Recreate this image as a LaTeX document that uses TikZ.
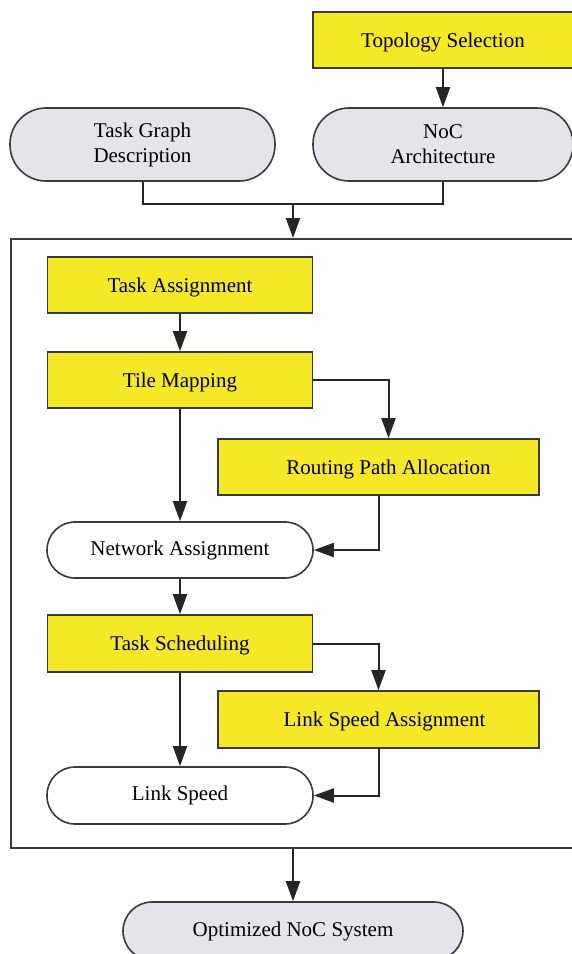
\documentclass[tikz,border=0pt]{standalone}
\usepackage{fontspec}
\setmainfont{Liberation Serif}
\usetikzlibrary{arrows.meta}
\definecolor{ylw}{HTML}{F5E827}
\definecolor{gry}{HTML}{E3E5EA}
\definecolor{edgec}{HTML}{3A3A3A}
\begin{document}
\begin{tikzpicture}[x=1pt,y=-1pt,
  font=\fontsize{21}{25}\selectfont,
  ybox/.style={draw=edgec, line width=1.6pt, fill=ylw, inner sep=0pt, align=center, text depth=0pt, text height=14pt},
  pill/.style={draw=edgec, line width=1.6pt, inner sep=0pt, align=center},
  arr/.style={draw=black!85, line width=2pt, -{Triangle[length=20pt,width=14pt]}},
  ln/.style={draw=black!85, line width=2pt}]
\useasboundingbox (0,0) rectangle (572,954);
\clip (0,0) rectangle (572,954);
\fill[white] (0,0) rectangle (572,954);

\node[ybox, minimum width=260pt, minimum height=56pt] (topo) at (443,40) {Topology Selection};
\node[pill, fill=gry, rounded corners=36pt, minimum width=265pt, minimum height=73pt] (tgd) at (142.5,144.5) {Task Graph\\Description};
\node[pill, fill=gry, rounded corners=36pt, minimum width=260pt, minimum height=73pt] (noc) at (443,144.5) {NoC\\Architecture};

\node[draw=edgec, line width=1.6pt, minimum width=600pt, minimum height=609pt, anchor=north west, inner sep=0pt] (outer) at (10,238) {};

\node[ybox, minimum width=265pt, minimum height=56pt] (ta) at (180,285) {Task Assignment};
\node[ybox, minimum width=265pt, minimum height=56pt] (tm) at (180,380) {Tile Mapping};
\node[ybox, minimum width=321pt, minimum height=56pt] (rpa) at (378.5,467) {\hspace*{20pt}Routing Path Allocation};
\node[pill, fill=white, rounded corners=28pt, minimum width=266pt, minimum height=56pt] (na) at (180,550) {Network Assignment};
\node[ybox, minimum width=265pt, minimum height=57pt] (ts) at (180,643.5) {Task Scheduling};
\node[ybox, minimum width=321pt, minimum height=57pt] (lsa) at (378.5,719.5) {\hspace*{12pt}Link Speed Assignment};
\node[pill, fill=white, rounded corners=28pt, minimum width=266pt, minimum height=57pt] (ls) at (180,795.5) {Link Speed};
\node[pill, fill=gry, rounded corners=29pt, minimum width=340pt, minimum height=58pt] (opt) at (293,931) {Optimized NoC System};

\coordinate (j) at (293,204);
\draw[arr] (topo) -- (noc);
\draw[ln] (tgd.south) |- (j) -| (noc.south);
\draw[arr] (j) -- (j |- outer.north);
\draw[arr] (ta) -- (tm);
\draw[arr] (tm.east) -| ([xshift=10pt]rpa.north);
\draw[arr] (tm) -- (na);
\draw[arr] (rpa.south) |- (na.east);
\draw[arr] (na) -- (ts);
\draw[arr] (ts.east) -| (lsa.north);
\draw[arr] (ts) -- (ls);
\draw[arr] (lsa.south) |- (ls.east);
\draw[arr] (j |- outer.south) -- (opt);
\end{tikzpicture}
\end{document}
